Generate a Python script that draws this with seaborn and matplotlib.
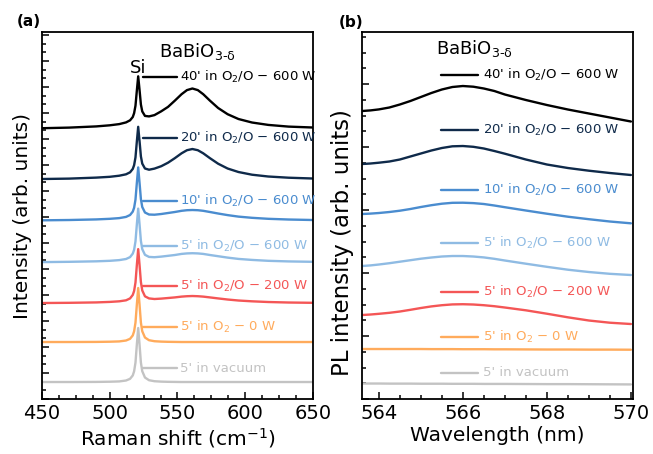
import numpy as np
import pandas as pd
import matplotlib
matplotlib.use("Agg")
import matplotlib.pyplot as plt
import seaborn as sns
from matplotlib.ticker import MultipleLocator, NullFormatter
from matplotlib.lines import Line2D

# ---------------- data ----------------
samples = ["5' in vacuum", "5' in O$_2$ \u2212 0 W", "5' in O$_2$/O \u2212 200 W",
           "5' in O$_2$/O \u2212 600 W", "10' in O$_2$/O \u2212 600 W",
           "20' in O$_2$/O \u2212 600 W", "40' in O$_2$/O \u2212 600 W"]
colors = ["#c3c3c3", "#ffab5c", "#f45656", "#8fbbe3", "#4a8ccf", "#0f2a4a", "#000000"]

raman_shift = [450, 470, 490, 500, 507, 512, 515, 517, 518, 519, 520, 521, 522, 523, 524, 526, 529,
               533, 538, 543, 548, 553, 557, 561, 565, 569, 574, 580, 587, 595, 605, 617, 632, 650]
raman_vacuum = [17, 17, 17.1, 17.3, 17.6, 18.5, 20.2, 23.6, 27.8, 36.4, 54.3, 71, 54.3, 36.4, 27.8, 21.5, 18.8,
                17.8, 17.4, 17.2, 17.1, 17, 17, 17, 17, 17, 17, 17, 17, 17, 17, 17, 17, 17]
raman_o2_0w = [57, 57, 57.1, 57.3, 57.6, 58.5, 60.2, 63.6, 67.8, 76.4, 94.3, 111, 94.3, 76.4, 67.8, 61.5, 58.8,
               57.8, 57.4, 57.2, 57.1, 57, 57, 57, 57, 57, 57, 57, 57, 57, 57, 57, 57, 57]
raman_5_200w = [96.0, 96.2, 96.6, 97.1, 97.7, 98.7, 100.6, 104.1, 108.1, 116.5, 133.8, 149.9, 133.9, 116.9,
                108.6, 102.7, 100.6, 100.0, 100.4, 101.0, 101.6, 102.4, 102.8, 103.0, 102.8, 102.4, 101.6,
                100.6, 99.5, 98.5, 97.7, 97.0, 96.5, 96.2]
raman_5_600w = [136.9, 137.2, 137.7, 138.2, 138.9, 140.0, 141.9, 145.4, 149.3, 157.6, 174.5, 190.4, 174.7,
                158.1, 149.9, 144.2, 142.1, 141.8, 142.4, 143.2, 144.0, 145.1, 145.6, 145.8, 145.6, 145.1,
                144.0, 142.8, 141.4, 140.1, 139.1, 138.2, 137.6, 137.2]
raman_10_600w = [178.7, 179.0, 179.6, 180.2, 180.9, 182.1, 184.0, 187.4, 191.3, 199.4, 216.0, 231.6, 216.2,
                 199.9, 192.0, 186.5, 184.5, 184.3, 185.0, 186.0, 187.0, 188.2, 188.8, 189.0, 188.8, 188.2,
                 187.0, 185.5, 183.9, 182.4, 181.2, 180.2, 179.5, 179.0]
raman_20_600w = [220.0, 220.4, 221.4, 222.2, 223.3, 224.7, 226.7, 230.1, 233.9, 241.6, 257.4, 272.2, 257.8,
                 242.6, 235.4, 230.5, 229.3, 230.4, 232.8, 236.3, 240.8, 245.7, 248.8, 250.0, 248.8, 245.7,
                 240.8, 235.3, 230.5, 227.0, 224.3, 222.5, 221.3, 220.5]
raman_40_600w = [270.8, 271.4, 272.6, 273.7, 274.9, 276.6, 278.7, 282.0, 285.9, 293.3, 308.3, 322.7, 309.0,
                 294.5, 287.6, 283.1, 282.6, 283.9, 287.7, 292.1, 298.3, 304.8, 308.9, 310.5, 308.9, 304.8,
                 298.3, 291.0, 284.8, 280.0, 276.5, 274.1, 272.4, 271.5]

wavelength = [563.6, 563.8, 564.0, 564.25, 564.5, 564.75, 565.0, 565.25, 565.5, 565.75, 566.0, 566.25,
              566.5, 566.75, 567.0, 567.5, 568.0, 568.5, 569.0, 569.5, 570.0]
pl_vacuum = [15.5, 15.5, 15.5, 15.4, 15.4, 15.4, 15.3, 15.3, 15.3, 15.2, 15.2, 15.2, 15.1, 15.1, 15.1,
             15.0, 14.9, 14.9, 14.8, 14.7, 14.6]
pl_o2_0w = [50, 50, 50, 50, 50, 50, 50, 49.9, 49.9, 49.9, 49.8, 49.8, 49.8, 49.7, 49.7, 49.6, 49.5,
            49.5, 49.4, 49.4, 49.3]
pl_5_200w = [84, 84.5, 85.2, 86.2, 87.5, 89.2, 91, 92.6, 93.8, 94.6, 94.8, 94.5, 93.8, 92.8, 91.5, 88.7,
             85.3, 81.7, 78.5, 76.3, 75]
pl_5_600w = [133, 133.6, 134.5, 135.8, 137.3, 138.8, 140.3, 141.5, 142.5, 143, 143, 142.5, 141.6, 140.2,
             138.5, 135.3, 132.2, 129.3, 127, 125.2, 124]
pl_10_600w = [185, 185.4, 186, 187, 188.3, 190, 192, 193.8, 195.3, 196.2, 196.3, 195.9, 195, 193.5, 191.8,
              188.5, 185.3, 182.3, 179.8, 177.5, 175.7]
pl_20_600w = [235, 235.5, 236.3, 237.5, 239.5, 242.5, 245.5, 248.5, 251, 252.7, 253, 252.2, 250.5, 248,
              245.3, 239.5, 234.5, 231, 228.3, 226, 224]
pl_40_600w = [288, 288.6, 289.6, 291.5, 294.5, 298, 302, 306, 309.5, 312, 313, 312.3, 310.5, 308, 304.5,
              299, 294, 289.5, 285.5, 281.5, 277.5]

raman_series = [raman_vacuum, raman_o2_0w, raman_5_200w, raman_5_600w, raman_10_600w, raman_20_600w, raman_40_600w]
pl_series = [pl_vacuum, pl_o2_0w, pl_5_200w, pl_5_600w, pl_10_600w, pl_20_600w, pl_40_600w]

raman_df = pd.concat([pd.DataFrame({"x": raman_shift, "y": s, "sample": n})
                      for n, s in zip(samples, raman_series)], ignore_index=True)
pl_df = pd.concat([pd.DataFrame({"x": wavelength, "y": s, "sample": n})
                   for n, s in zip(samples, pl_series)], ignore_index=True)
palette = dict(zip(samples, colors))

# ---------------- style ----------------
sns.set_style("ticks")
plt.rcParams["font.family"] = ["DejaVu Sans"]
plt.rcParams["mathtext.fontset"] = "dejavusans"
plt.rcParams["axes.linewidth"] = 1.3
for k in ("text.color", "axes.labelcolor", "xtick.color", "ytick.color", "axes.edgecolor"):
    plt.rcParams[k] = "black"

fig = plt.figure(figsize=(6.53, 4.54), dpi=100)
ax1 = fig.add_axes([0.0643, 0.1211, 0.415, 0.8084])
ax2 = fig.add_axes([0.5544, 0.1211, 0.415, 0.8084])

sns.lineplot(data=raman_df, x="x", y="y", hue="sample", palette=palette, ax=ax1,
             legend=False, estimator=None, sort=False, lw=1.7)
sns.lineplot(data=pl_df, x="x", y="y", hue="sample", palette=palette, ax=ax2,
             legend=False, estimator=None, sort=False, lw=1.7)

# limits & ticks
ax1.set_xlim(450, 650)
ax2.set_xlim(563.6, 570.05)
for ax in (ax1, ax2):
    ax.set_ylim(0, 367)
    ax.yaxis.set_major_formatter(NullFormatter())
    ax.tick_params(which="both", direction="in", top=False, right=False, labelsize=14,
                   color="black", labelcolor="black", width=1.1)
    ax.tick_params(which="major", length=5)
    ax.tick_params(which="minor", length=3)
    for sp in ax.spines.values():
        sp.set_visible(True)
        sp.set_color("black")

ax1.xaxis.set_major_locator(MultipleLocator(50))
ax1.xaxis.set_minor_locator(MultipleLocator(12.5))
ax1.yaxis.set_major_locator(MultipleLocator(26))
ax1.yaxis.set_minor_locator(MultipleLocator(26 / 3))
ax2.xaxis.set_major_locator(MultipleLocator(2))
ax2.xaxis.set_minor_locator(MultipleLocator(0.5))
ax2.yaxis.set_major_locator(MultipleLocator(63))
ax2.yaxis.set_minor_locator(MultipleLocator(15.75))

ax1.set_xlabel("Raman shift (cm$^{-1}$)", fontsize=14.5, labelpad=2)
ax1.set_ylabel("Intensity (arb. units)", fontsize=14.5, labelpad=4)
ax2.set_xlabel("Wavelength (nm)", fontsize=14.5, labelpad=2)
ax2.set_ylabel("PL intensity (arb. units)", fontsize=16.5)
ax2.yaxis.set_label_coords(-0.028, 0.425)

# labels beside curves
left_y = [0.084, 0.196, 0.308, 0.417, 0.540, 0.711, 0.877]
right_y = [0.071, 0.169, 0.292, 0.425, 0.569, 0.733, 0.883]
for ax, ys, (x0, x1, xt) in ((ax1, left_y, (0.373, 0.498, 0.509)),
                             (ax2, right_y, (0.2915, 0.428, 0.446))):
    for name, c, yy in zip(samples, colors, ys):
        ax.add_line(Line2D([x0, x1], [yy, yy], transform=ax.transAxes, color=c, lw=1.7))
        ax.text(xt, yy, name, transform=ax.transAxes, color=c, fontsize=9.5,
                va="center", ha="left")

title = "BaBiO$_{\\text{3-\u03b4}}$"
ax1.text(0.572, 0.946, title, transform=ax1.transAxes, fontsize=13, ha="center", va="center")
ax2.text(0.413, 0.956, title, transform=ax2.transAxes, fontsize=13, ha="center", va="center")
ax1.text(0.354, 0.902, "Si", transform=ax1.transAxes, fontsize=13, ha="center", va="center")

fig.text(0.044, 0.952, "(a)", fontsize=11, fontweight="bold", ha="center", va="center")
fig.text(0.5375, 0.950, "(b)", fontsize=11, fontweight="bold", ha="center", va="center")

fig.savefig("out.png", dpi=100)
